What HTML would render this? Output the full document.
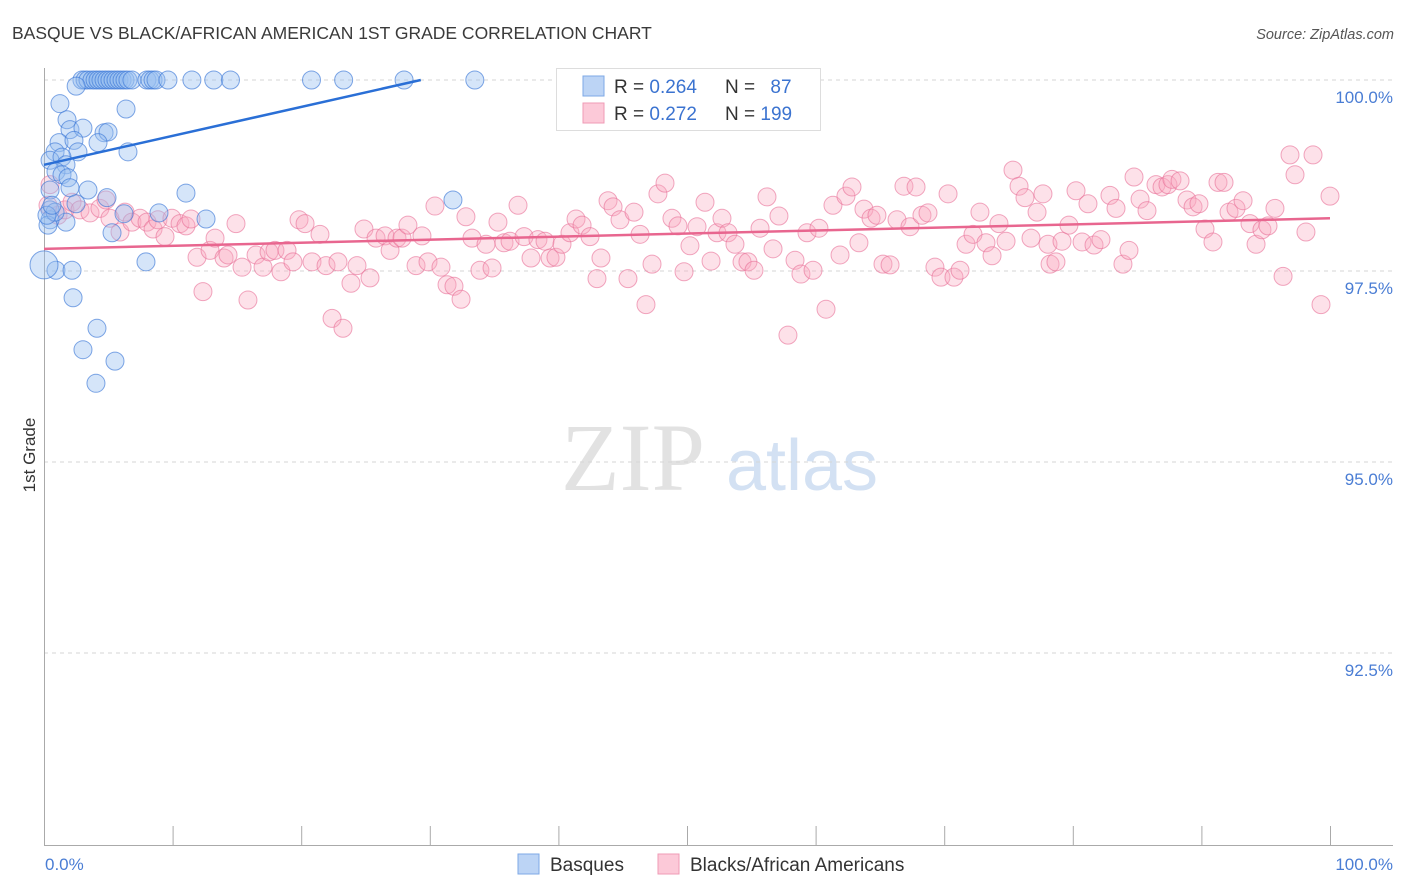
<!DOCTYPE html>
<html><head><meta charset="utf-8"><style>
body{margin:0;background:#fff;font-family:"Liberation Sans",sans-serif;}
#wrap{position:relative;width:1406px;height:892px;overflow:hidden;}
</style></head><body>
<div id="wrap">
<svg id="chart" width="1406" height="892" xmlns="http://www.w3.org/2000/svg">
<text x="12" y="39" font-size="17.5" fill="#3a3a3a">BASQUE VS BLACK/AFRICAN AMERICAN 1ST GRADE CORRELATION CHART</text>
<text x="1394" y="39" font-size="14.5" fill="#555" font-style="italic" text-anchor="end">Source: ZipAtlas.com</text>
<text x="35" y="455" font-size="17" fill="#333" transform="rotate(-90 35 455)" text-anchor="middle">1st Grade</text>
<g>
<text x="633" y="490" font-size="96" fill="#e2e2e2" font-family="Liberation Serif,serif" text-anchor="middle">ZIP</text>
<text x="802" y="490" font-size="72" fill="#d3e1f3" text-anchor="middle">atlas</text>
</g>
<g id="grid"></g>
<g id="axes"></g>
<g id="pts"></g>
<g id="trend"></g>
<g>
<rect x="556.5" y="68.5" width="264" height="62" fill="#fff" stroke="#ddd"/>
<rect x="583" y="76" width="21" height="20" fill="#bcd4f5" stroke="#7ea8e6"/>
<rect x="583" y="103" width="21" height="20" fill="#fcc9d8" stroke="#ef9bb6"/>
<text x="614" y="93" font-size="19" fill="#333">R = <tspan fill="#3b73d0">0.264</tspan></text>
<text x="725" y="93" font-size="19" fill="#333">N = <tspan fill="#3b73d0" dx="10">87</tspan></text>
<text x="614" y="120" font-size="19" fill="#333">R = <tspan fill="#3b73d0">0.272</tspan></text>
<text x="725" y="120" font-size="19" fill="#333">N = <tspan fill="#3b73d0">199</tspan></text>
</g>
<g>
<rect x="518" y="854" width="21" height="20" fill="#bcd4f5" stroke="#7ea8e6"/>
<text x="550" y="871" font-size="19" fill="#333">Basques</text>
<rect x="658" y="854" width="21" height="20" fill="#fcc9d8" stroke="#ef9bb6"/>
<text x="690" y="871" font-size="19" fill="#333">Blacks/African Americans</text>
</g>
</svg>
</div>
<script>
const yTicks=[100,97.5,95,92.5];
const yTickLabels=["100.0%","97.5%","95.0%","92.5%"];
const xTicks=[0,10,20,30,40,50,60,70,80,90,100];
const xEndLabels=["0.0%","100.0%"];
const blueX=[2.95,3.19,3.42,3.73,3.97,4.2,4.43,4.67,4.9,5.13,5.37,5.6,5.83,6.07,6.3,6.53,6.84,8.0,8.24,8.48,8.71,9.64,11.5,13.2,14.5,20.8,23.3,28.0,33.5,2.5,
1.24,6.38,1.79,2.02,3.03,4.67,4.98,4.2,1.17,2.33,0.86,0.47,2.64,6.53,1.4,1.71,0.93,1.4,1.87,0.47,2.02,3.42,4.9,11.04,31.8,0.47,1.71,0.47,0.31,5.29,8.94,12.6,6.22,0.86,2.49,0.93,2.18,7.93,2.26,4.12,3.03,5.52,4.04,0.23,0.62,0.0];
const blueY=[100,100,100,100,100,100,100,100,100,100,100,100,100,100,100,100,100,100,100,100,100,100,100,100,100,100,100,100,100,99.92,
99.69,99.62,99.48,99.35,99.37,99.31,99.32,99.18,99.18,99.21,99.06,98.95,99.06,99.06,98.99,98.89,98.8,98.76,98.72,98.56,98.59,98.56,98.46,98.52,98.43,98.3,98.14,98.17,98.1,98.0,98.26,98.18,98.25,98.27,98.38,97.51,97.51,97.62,97.15,96.75,96.47,96.32,96.03,98.23,98.36,97.58];
const pinkX=[0.47,0.31,1.09,1.63,2.18,2.8,3.58,4.35,4.82,5.13,5.91,6.3,6.84,7.47,8.01,8.48,8.86,9.41,9.95,10.58,11.04,11.43,11.9,12.36,12.91,13.3,14.0,14.31,14.93,15.4,15.86,16.49,17.03,17.5,17.96,18.43,18.9,19.36,19.83,20.3,20.84,21.46,21.93,22.4,22.86,23.25,23.87,24.34,24.88,25.35,25.82,26.52,26.91,27.45,27.84,28.3,28.93,29.39,29.86,30.4,30.87,31.34,31.88,32.43,32.81,33.28,33.9,34.37,34.84,35.3,35.77,36.24,36.86,37.33,37.87,38.41,38.96,39.35,39.81,40.28,40.9,41.37,41.84,42.46,43.0,43.31,43.86,44.25,44.79,45.41,45.88,46.35,46.81,47.28,47.74,48.29,48.83,49.3,49.77,50.23,50.78,51.4,51.87,52.33,52.72,53.19,53.73,54.28,54.74,55.21,55.68,56.22,56.69,57.15,57.85,58.4,58.86,59.33,59.8,60.26,60.81,61.35,61.9,62.36,62.83,63.37,63.76,64.31,64.77,65.24,65.79,66.33,66.87,67.34,67.81,68.27,68.74,69.28,69.75,70.3,70.76,71.23,71.7,72.24,72.78,73.25,73.72,74.26,74.81,75.35,75.82,76.28,76.75,77.22,77.68,78.07,78.23,78.69,79.16,79.7,80.25,80.72,81.18,81.65,82.19,82.89,83.36,83.9,84.37,84.76,85.23,85.77,86.47,86.94,87.4,87.71,88.34,88.88,89.35,89.81,90.28,90.9,91.29,91.76,92.15,92.69,93.24,93.78,94.25,94.71,95.18,95.72,96.35,96.89,97.28,98.13,98.68,99.3,100.0];
const pinkY=[98.63,98.36,98.23,98.3,98.4,98.3,98.26,98.32,98.43,98.19,98.01,98.27,98.14,98.19,98.14,98.05,98.17,97.95,98.19,98.12,98.09,98.18,97.68,97.23,97.77,97.93,97.67,97.71,98.12,97.55,97.12,97.71,97.55,97.75,97.77,97.49,97.77,97.62,98.17,98.12,97.62,97.98,97.57,96.88,97.62,96.75,97.34,97.57,98.05,97.41,97.93,97.96,97.77,97.93,97.93,98.1,97.57,97.96,97.62,98.35,97.55,97.32,97.3,97.13,98.21,97.93,97.51,97.85,97.54,98.14,97.87,97.89,98.36,97.95,97.67,97.91,97.89,97.67,97.68,97.85,98.0,98.18,98.1,97.95,97.4,97.67,98.42,98.34,98.17,97.4,98.27,97.98,97.06,97.59,98.51,98.65,98.19,98.09,97.49,97.83,98.08,98.4,97.63,98.0,98.19,98.0,97.85,97.62,97.62,97.51,98.06,98.47,97.79,98.22,96.66,97.64,97.46,98.0,97.51,98.06,97.0,98.36,97.71,98.48,98.6,97.87,98.31,98.19,98.23,97.59,97.58,98.17,98.61,98.08,98.6,98.23,98.26,97.55,97.42,98.51,97.42,97.51,97.85,97.98,98.27,97.87,97.7,98.12,97.89,98.82,98.61,98.46,97.93,98.27,98.51,97.85,97.59,97.62,97.89,98.1,98.55,97.88,98.38,97.84,97.91,98.49,98.32,97.59,97.77,98.73,98.44,98.29,98.63,98.6,98.63,98.7,98.68,98.43,98.34,98.38,98.05,97.88,98.66,98.66,98.27,98.32,98.42,98.12,97.85,98.04,98.09,98.32,97.43,99.02,98.76,98.01,99.02,97.06,98.48];
const blueTrendX=[0,29.3];
const blueTrendY=[98.89,100.0];
const pinkTrendX=[0,100];
const pinkTrendY=[97.79,98.19];

const NS="http://www.w3.org/2000/svg";
const X0=44,X1=1330,YTOP=80,YPER=76.4;
function sx(v){return X0+(X1-X0)*v/100;}
function sy(v){return YTOP+(100-v)*YPER;}
function mk(tag,attrs,parent){const e=document.createElementNS(NS,tag);for(const k in attrs)e.setAttribute(k,attrs[k]);parent.appendChild(e);return e;}
const grid=document.getElementById('grid'),axes=document.getElementById('axes'),pts=document.getElementById('pts'),trend=document.getElementById('trend');
yTicks.forEach((t,i)=>{
 const l=mk('line',{x1:44,x2:1393,y1:sy(t),y2:sy(t),stroke:'#d6d6d6','stroke-dasharray':'4,4'},grid);
 
 
 const tx=mk('text',{x:1393,y:sy(t)+23,'font-size':17,fill:'#4a7dd4','text-anchor':'end'},axes);
 tx.textContent=yTickLabels[i];
 
 
});
const ya=mk('line',{x1:44.5,x2:44.5,y1:68,y2:845,stroke:'#aaa'},axes);


const xa=mk('line',{x1:44,x2:1393,y1:845.5,y2:845.5,stroke:'#aaa'},axes);


xTicks.forEach(t=>{
 const l=mk('line',{x1:sx(t)+.5,x2:sx(t)+.5,y1:826,y2:845,stroke:'#aaa'},axes);
 
 
});
const xl0=mk('text',{x:45,y:870,'font-size':17,fill:'#4a7dd4'},axes);xl0.textContent=xEndLabels[0];


const xl1=mk('text',{x:1393,y:870,'font-size':17,fill:'#4a7dd4','text-anchor':'end'},axes);xl1.textContent=xEndLabels[1];


pinkX.forEach((v,i)=>{
 const c=mk('circle',{cx:sx(v),cy:sy(pinkY[i]),r:9,fill:'rgba(248,168,192,0.35)',stroke:'rgba(232,110,150,0.6)','stroke-width':1},pts);
 
 
});
blueX.forEach((v,i)=>{
 const c=mk('circle',{cx:sx(v),cy:sy(blueY[i]),r:i===blueX.length-1?14:9,fill:'rgba(150,190,240,0.4)',stroke:'rgba(60,120,215,0.65)','stroke-width':1},pts);
 
 
});
const bt=mk('line',{x1:sx(blueTrendX[0]),y1:sy(blueTrendY[0]),x2:sx(blueTrendX[1]),y2:sy(blueTrendY[1]),stroke:'#2a6fd6','stroke-width':2.5},trend);


const pt=mk('line',{x1:sx(pinkTrendX[0]),y1:sy(pinkTrendY[0]),x2:sx(pinkTrendX[1]),y2:sy(pinkTrendY[1]),stroke:'#e8668f','stroke-width':2.5},trend);


</script>
</body></html>
